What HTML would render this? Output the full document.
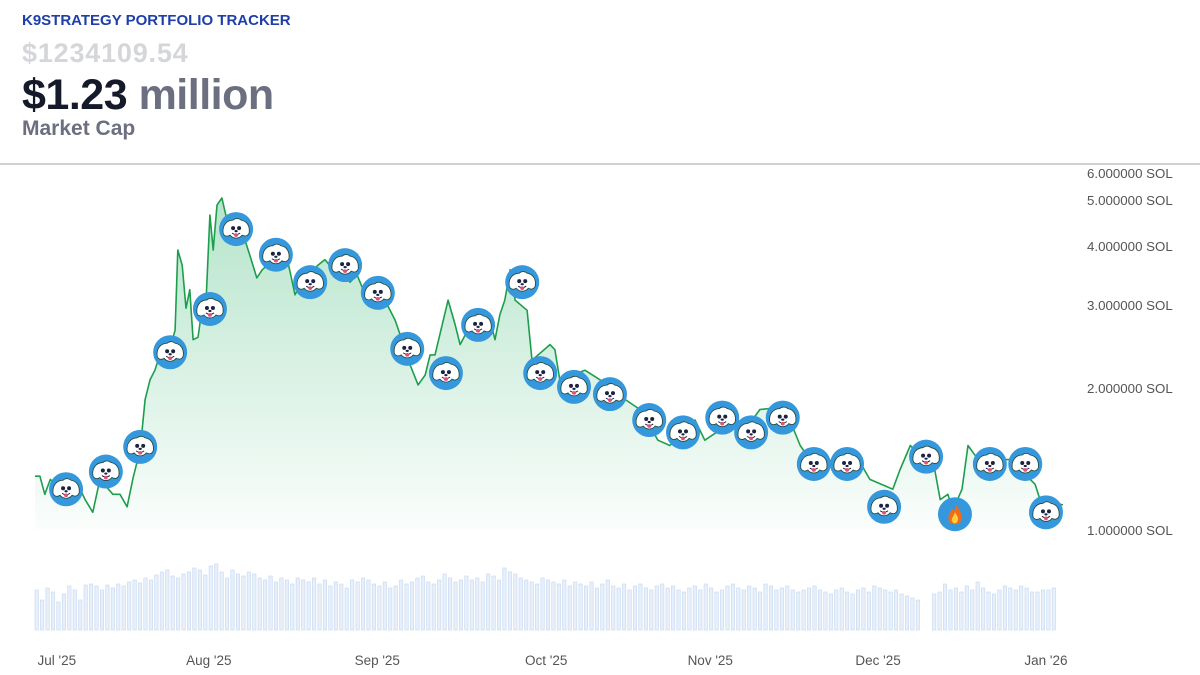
<!DOCTYPE html>
<html><head><meta charset="utf-8"><style>
body{margin:0;width:1200px;height:675px;background:#fff;overflow:hidden;font-family:"Liberation Sans",sans-serif;position:relative}
.t{position:absolute;left:22px;font-weight:bold;white-space:nowrap}
</style></head><body>
<div class="t" style="top:12px;font-size:15px;color:#1e3fa8;letter-spacing:0px">K9STRATEGY PORTFOLIO TRACKER</div>
<div class="t" style="top:38px;font-size:27px;color:#d4d6da;letter-spacing:0.8px">$1234109.54</div>
<div class="t" style="top:71px;font-size:43px;color:#151a2b;letter-spacing:-0.5px">$1.23 <span style="color:#6b6f80">million</span></div>
<div class="t" style="top:117px;font-size:21px;color:#6b6f80">Market Cap</div>
<div style="position:absolute;left:0;top:163px;width:1200px;height:2px;background:#d0d0d0"></div>
<svg id="c" width="1200" height="675" style="position:absolute;left:0;top:0">
<defs>
<linearGradient id="g" x1="0" y1="0" x2="0" y2="1"><stop offset="0" stop-color="#2db36a" stop-opacity="0.35"/><stop offset="1" stop-color="#2db36a" stop-opacity="0.02"/></linearGradient>
</defs>
</svg>
<script>
const days=[0,0.9,1.8,2.8,4.6,7.3,9.2,10.6,11.9,14.3,15.6,16.9,18,19.3,20.2,21.1,22,22.9,23.9,25.7,26.2,27,27.7,28.4,29,29.9,30.6,31.4,32.1,32.7,33.4,34.3,35,38.5,39.4,40.7,41.7,45.9,46.8,47.7,48.6,51.9,53.2,54.5,56,57.8,59.1,60.6,64.2,66.1,67,68.8,70.3,71.6,72.5,73.4,75.8,77.1,78,79.4,83.5,84.4,85.3,86.2,87.2,88.1,90.3,91.2,94.5,95.4,96.3,100.9,103.7,108.3,111,114.3,116.5,121.1,122.9,128.4,130.3,133,134.9,138.5,140.4,142.2,145,151.7,153.2,157.4,158.7,160.6,165.1,166.1,167.5,168.4,170.1,171.2,172.5,173.8,178.9,182.6,183.5,184.4,188.6];
const values=[1.30,1.30,1.19,1.28,1.22,1.29,1.16,1.09,1.28,1.19,1.19,1.12,1.29,1.48,1.89,2.08,2.18,2.35,2.24,2.65,3.92,3.64,2.95,3.23,2.53,2.56,2.92,3.07,4.65,3.92,4.88,5.05,4.65,4.12,3.83,3.42,3.56,3.92,3.52,3.15,3.30,3.64,3.74,3.59,3.64,3.35,3.47,3.15,3.07,2.78,2.59,2.24,2.03,2.13,2.35,2.35,3.07,2.72,2.47,2.65,2.78,2.53,2.86,3.07,3.56,3.07,2.92,2.29,2.47,2.41,2.08,2.18,2.08,1.89,1.80,1.55,1.51,1.71,1.55,1.71,1.63,1.80,1.81,1.71,1.51,1.41,1.41,1.37,1.28,1.22,1.34,1.51,1.34,1.16,1.19,1.10,1.22,1.51,1.44,1.41,1.41,1.28,1.25,1.16,1.13];
const markerDays=[5.7,13,19.3,24.8,32.1,36.9,44.2,50.5,56.9,62.9,68.3,75.4,81.3,89.4,92.7,98.9,105.5,112.7,118.9,126.1,131.4,137.2,142.9,149,155.8,163.5,168.8,175.2,181.7,185.5];
const markerValues=[1.22,1.33,1.50,2.38,2.94,4.34,3.83,3.35,3.64,3.18,2.42,2.15,2.72,3.35,2.15,2.01,1.94,1.71,1.61,1.73,1.61,1.73,1.38,1.38,1.12,1.43,1.08,1.38,1.38,1.09];
const markerTypes=["dog","dog","dog","dog","dog","dog","dog","dog","dog","dog","dog","dog","dog","dog","dog","dog","dog","dog","dog","dog","dog","dog","dog","dog","dog","dog","fire","dog","dog","dog"];
const volumes=[40,30,42,38,28,36,44,40,30,45,46,44,40,45,42,46,44,48,50,47,52,50,55,58,60,54,52,56,58,62,60,55,64,66,58,52,60,56,54,58,56,52,50,54,48,52,50,46,52,50,48,52,46,50,44,48,46,42,50,48,52,50,46,44,48,42,44,50,46,48,52,54,48,46,50,56,52,48,50,54,50,52,48,56,54,50,62,58,56,52,50,48,46,52,50,48,46,50,44,48,46,44,48,42,46,50,44,42,46,40,44,46,42,40,44,46,42,44,40,38,42,44,40,46,42,38,40,44,46,42,40,44,42,38,46,44,40,42,44,40,38,40,42,44,40,38,36,40,42,38,36,40,42,38,44,42,40,38,40,36,34,32,30,0,0,36,38,46,40,42,38,44,40,48,42,38,36,40,44,42,40,44,42,38,38,40,40,42];
const yTicks=[1,2,3,4,5,6];
const yTickLabels=["1.000000 SOL","2.000000 SOL","3.000000 SOL","4.000000 SOL","5.000000 SOL","6.000000 SOL"];
const xTickDays=[4,31.9,62.8,93.8,123.9,154.7,185.5];
const xTickLabels=["Jul '25","Aug '25","Sep '25","Oct '25","Nov '25","Dec '25","Jan '26"];

const svg=document.getElementById('c');
const NS='http://www.w3.org/2000/svg';
const X=d=>35+d*5.45;
const Y=v=>530-Math.log10(v)*472;
const VB=630;
const VX=i=>35+i*(1028/189);
function mk(t,a){const e=document.createElementNS(NS,t);for(const k in a)e.setAttribute(k,a[k]);svg.appendChild(e);return e;}

volumes.forEach((v,i)=>{if(!v)return;
 const r=mk('rect',{x:VX(i),y:VB-v,width:3.4,height:v,fill:'#e6effa',stroke:'#c6d8ef','stroke-width':0.6});
 
 
});
let pts=days.map((d,i)=>X(d).toFixed(1)+','+Y(values[i]).toFixed(1));
const area=mk('path',{d:'M'+X(days[0])+',530 L'+pts.join(' L')+' L'+X(days[days.length-1])+',530 Z',fill:'url(#g)'});


const line=mk('polyline',{points:pts.join(' '),fill:'none',stroke:'#1d9e4d','stroke-width':1.6,'stroke-linejoin':'round'});


yTicks.forEach((v,i)=>{let y=Math.max(Y(v),173);
 const t=mk('text',{x:1087,y:y+5,'font-size':13.3,fill:'#555','font-family':'Liberation Sans, sans-serif'});
 t.textContent=yTickLabels[i];
 
 
});
xTickDays.forEach((d,i)=>{
 const t=mk('text',{x:X(d),y:665,'font-size':13.5,fill:'#555','text-anchor':'middle','font-family':'Liberation Sans, sans-serif'});
 t.textContent=xTickLabels[i];
 
 
});
markerDays.forEach((d,i)=>{
 const cx=X(d),cy=Y(markerValues[i]);
 const g=document.createElementNS(NS,'g');svg.appendChild(g);
 
 
 g.setAttribute('transform','translate('+cx+','+cy+')');
 let s='<circle r="17" fill="#3597dc"/>';
 if(markerTypes[i]==='fire'){
  s+='<path d="M0,-10 C6,-4 8,2 6,7 C4,11 -4,11 -6,7 C-8,2 -4,-2 -3,-6 C-1,-2 1,-3 0,-10Z" fill="#f26a1b"/><path d="M0,-2 C3,2 4,5 2,8 C0,10 -2,9 -3,7 C-4,4 -1,2 0,-2Z" fill="#ffd23a"/>';
 } else {
  s+='<path d="M-13,4 C-14,-4 -9,-9 -3,-9 C0,-12 4,-10 5,-9 C11,-8 14,-3 13,4 C11,8 8,7 6,6 C3,10 -3,10 -6,6 C-9,8 -12,7 -13,4Z" fill="#fff" stroke="#243" stroke-width="0.8"/><circle cx="-3" cy="-1" r="2" fill="#1b2340"/><circle cx="3" cy="-1" r="2" fill="#1b2340"/><ellipse cx="0" cy="2" rx="1.6" ry="1.1" fill="#1b2340"/><path d="M-4,4 Q0,7 4,4" stroke="#1b2340" stroke-width="1" fill="none"/><ellipse cx="0" cy="6" rx="2" ry="1.8" fill="#e0507a"/>';
 }
 g.innerHTML=s;
});
</script>
</body></html>
